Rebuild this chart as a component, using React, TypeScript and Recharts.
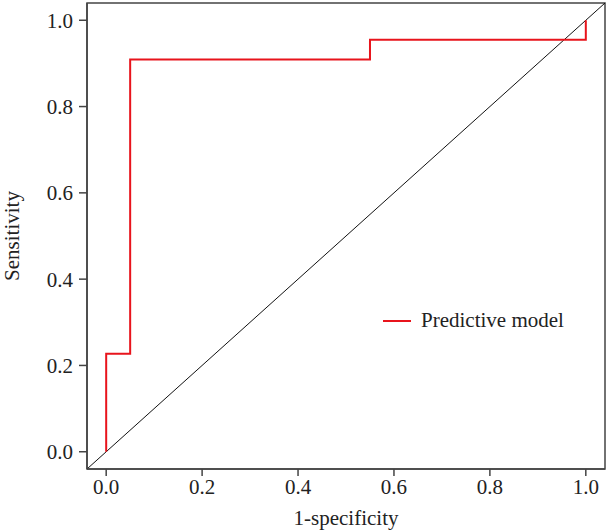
import {
  LineChart,
  Line,
  XAxis,
  YAxis,
  ReferenceArea,
} from "recharts";

// ROC curve points (1-specificity, sensitivity)
const fpr = [0, 0, 0.05, 0.05, 0.55, 0.55, 1.0, 1.0];
const tpr = [0, 0.227, 0.227, 0.909, 0.909, 0.955, 0.955, 1.0];
// reference diagonal end points
const diag = [-0.04, 1.04];
const ticks = [0, 0.2, 0.4, 0.6, 0.8, 1.0];
const seriesName = "Predictive model";

const rocData = fpr.map((x, i) => ({ x, y: tpr[i] }));
const diagData = diag.map((v) => ({ x: v, y: v }));

const FONT = "'Liberation Serif', 'Times New Roman', serif";
const AXIS = "#444";
const RED = "#e8141c";
const DOMAIN: [number, number] = [-0.04, 1.04];

const tickStyle = { fontSize: 21, fontFamily: FONT, fill: "#222" };

export default function App() {
  return (
    <div style={{ position: "absolute", left: 0, top: 0, width: 608, height: 531 }}>
      <LineChart width={608} height={531} margin={{ top: 3, right: 3, left: 0, bottom: 0 }}>
        <XAxis
          dataKey="x"
          type="number"
          domain={DOMAIN}
          ticks={ticks}
          tickFormatter={(v: number) => v.toFixed(1)}
          height={62}
          stroke={AXIS}
          strokeWidth={1.5}
          tickSize={7}
          tickMargin={3}
          tick={tickStyle}
          allowDuplicatedCategory={false}
          label={{ value: "1-specificity", position: "insideBottom", offset: 6, style: { ...tickStyle, textAnchor: "middle" } }}
        />
        <YAxis
          dataKey="y"
          type="number"
          domain={DOMAIN}
          ticks={ticks}
          tickFormatter={(v: number) => v.toFixed(1)}
          width={87}
          stroke={AXIS}
          strokeWidth={1.5}
          tickSize={8}
          tickMargin={6}
          tick={tickStyle}
          label={{ value: "Sensitivity", angle: -90, position: "insideLeft", offset: 12, style: { ...tickStyle, textAnchor: "middle" } }}
        />
        <ReferenceArea
          x1={DOMAIN[0]}
          x2={DOMAIN[1]}
          y1={DOMAIN[0]}
          y2={DOMAIN[1]}
          fill="none"
          stroke={AXIS}
          strokeWidth={1.5}
          ifOverflow="visible"
        />
        <Line
          data={diagData}
          dataKey="y"
          type="linear"
          stroke="#111"
          strokeWidth={1}
          dot={false}
          legendType="none"
          isAnimationActive={false}
        />
        <Line
          data={rocData}
          dataKey="y"
          name={seriesName}
          type="linear"
          stroke={RED}
          strokeWidth={2}
          dot={false}
          isAnimationActive={false}
        />
      </LineChart>
      <div
        style={{
          position: "absolute",
          left: 383,
          top: 308,
          display: "flex",
          alignItems: "center",
          fontFamily: FONT,
          fontSize: 21,
          color: "#222",
          whiteSpace: "nowrap",
        }}
      >
        <span style={{ display: "inline-block", width: 28, height: 2, background: RED, marginRight: 10 }} />
        {seriesName}
      </div>
    </div>
  );
}
